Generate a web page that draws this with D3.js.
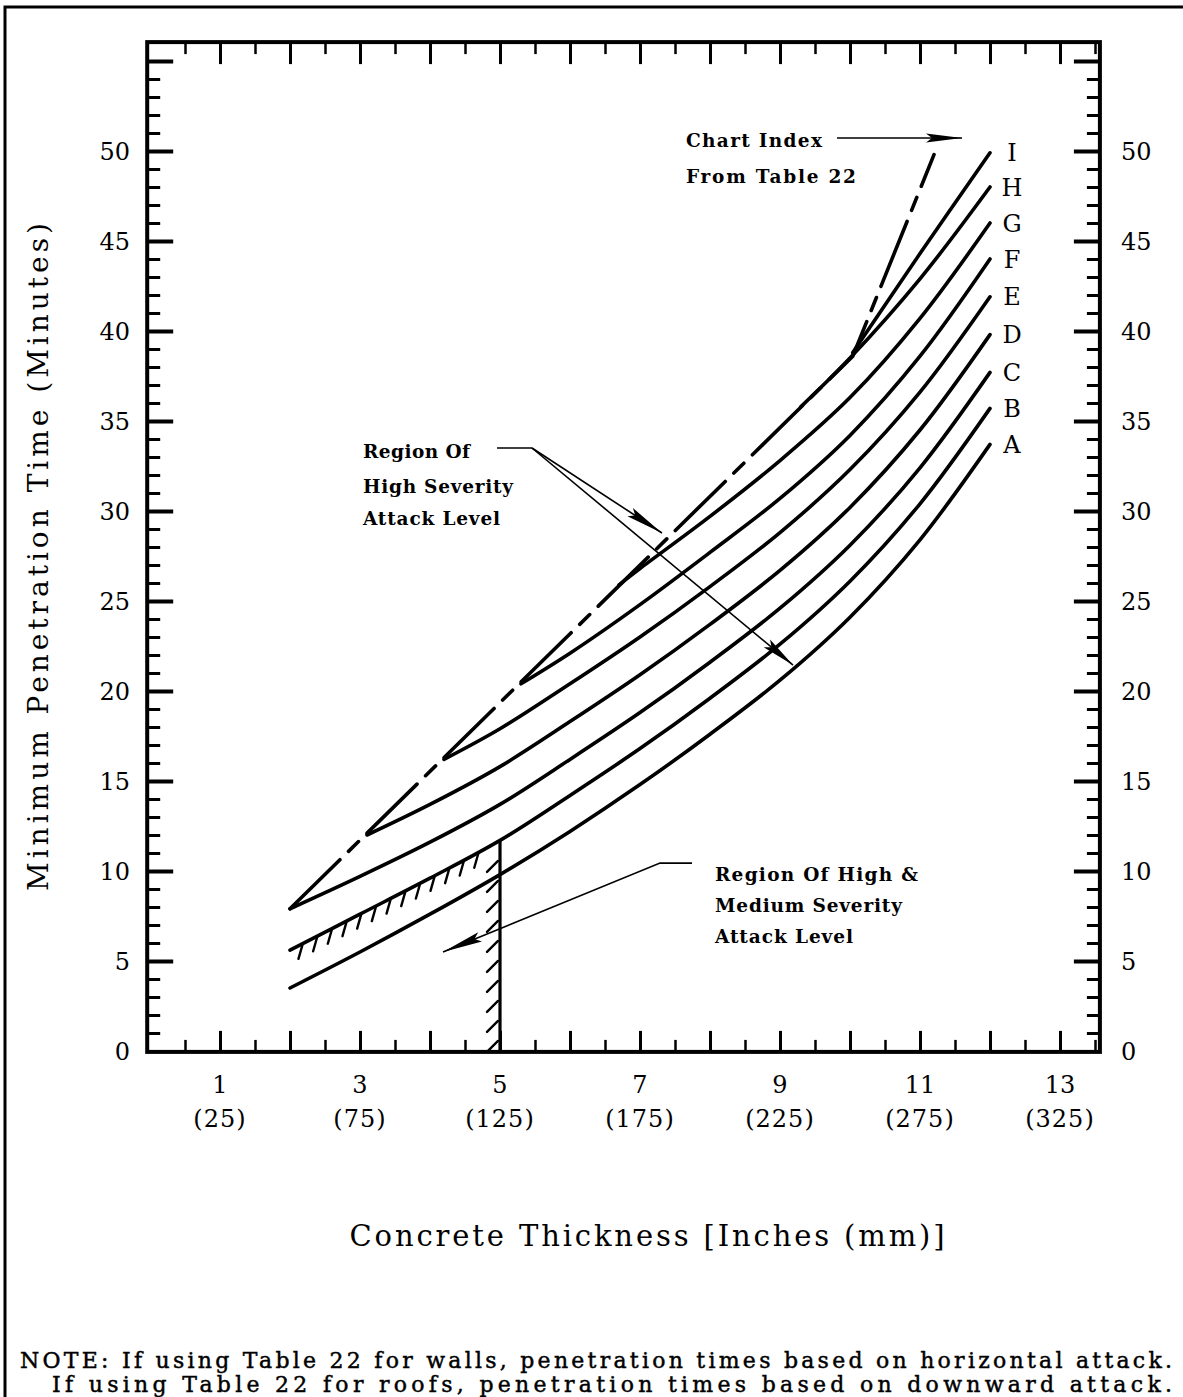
<!DOCTYPE html>
<html><head><meta charset="utf-8">
<script src="https://cdn.jsdelivr.net/npm/d3@7/dist/d3.min.js"></script>
<style>body{margin:0;background:#fff}svg{display:block}</style>
</head><body>
<svg id="chart" width="1183" height="1397"></svg>
<script>
// ---------- data ----------
const xTickValues = [1, 3, 5, 7, 9, 11, 13];
const xTickMm = ["(25)", "(75)", "(125)", "(175)", "(225)", "(275)", "(325)"];
const yTickValues = [0, 5, 10, 15, 20, 25, 30, 35, 40, 45, 50];
const curveLabels = ["A", "B", "C", "D", "E", "F", "G", "H", "I"];

const curveA = [[2,3.5],[3,5.5],[4,7.6],[5,9.8],[6,12.2],[7,14.8],[8,17.6],[9,20.6],[10,24.1],[11,28.4],[12,33.7]];
const curveB = [[2,5.6],[3,7.6],[4,9.6],[5,11.7],[6,14.2],[7,16.8],[8,19.6],[9,22.6],[10,26.1],[11,30.4],[12,35.7]];
const curveC = [[2,7.9],[3,9.7],[4,11.6],[5,13.7],[6,16.2],[7,18.8],[8,21.6],[9,24.6],[10,28.1],[11,32.4],[12,37.7]];
const curveD = [[3.1,12.0],[4,13.7],[5,15.8],[6,18.3],[7,20.9],[8,23.7],[9,26.7],[10,30.2],[11,34.5],[12,39.8]];
const curveE = [[4.2,16.2],[5,17.9],[6,20.4],[7,23.0],[8,25.8],[9,28.8],[10,32.3],[11,36.6],[12,41.9]];
const curveF = [[5.3,20.4],[6,22.1],[7,24.8],[8,27.7],[9,30.7],[10,34.2],[11,38.6],[12,44.0]];
const curveG = [[6.7,25.9],[7,26.8],[8,29.7],[9,32.8],[10,36.3],[11,40.7],[12,46.0]];
const curveH = [[9.3,35.8],[10,38.5],[11,42.9],[12,48.0]];
const curveI = [[10.04,38.8],[11,44.3],[12,49.9]];
const curves = [curveA, curveB, curveC, curveD, curveE, curveF, curveG, curveH, curveI];

// dash-dot boundary of the high severity region
const boundaryLine = [[2,7.9],[10.04,38.6],[11.2,49.8]];
// hatched limit: thickness 5 in, from 0 up to curve B
const hatchThickness = 5;

// ---------- layout ----------
const svg = d3.select("#chart");
const x = d3.scaleLinear().domain([0, 13]).range([150, 1060]);
const y = d3.scaleLinear().domain([0, 50]).range([1051, 151]);
const X0 = -0.04, X1 = 13.57, Y0 = -0.05, Y1 = 56.05;
const serif = "'DejaVu Serif', serif";

// outer border
svg.append("path").attr("d", "M5,1397 V7 H1183").attr("fill", "none")
  .attr("stroke", "#000").attr("stroke-width", 3);

// frame
svg.append("rect").attr("x", x(X0)).attr("y", y(Y1))
  .attr("width", x(X1) - x(X0)).attr("height", y(Y0) - y(Y1))
  .attr("fill", "none").attr("stroke", "#000").attr("stroke-width", 4);

// ---------- ticks via d3 axes ----------
function styleAxis(g, w) {
  g.select(".domain").remove();
  g.selectAll("text").remove();
  g.selectAll("line").attr("stroke", "#000").attr("stroke-width", w);
}
const yMinor = d3.range(1, 56).filter(v => v % 5 !== 0);
const yMajor = d3.range(5, 56, 5);
svg.append("g").attr("transform", `translate(${x(X0)},0)`)
  .call(d3.axisRight(y).tickValues(yMinor).tickSize(13)).call(styleAxis, 3);
svg.append("g").attr("transform", `translate(${x(X0)},0)`)
  .call(d3.axisRight(y).tickValues(yMajor).tickSize(26)).call(styleAxis, 4);
svg.append("g").attr("transform", `translate(${x(X1)},0)`)
  .call(d3.axisLeft(y).tickValues(yMinor).tickSize(13)).call(styleAxis, 3);
svg.append("g").attr("transform", `translate(${x(X1)},0)`)
  .call(d3.axisLeft(y).tickValues(yMajor).tickSize(26)).call(styleAxis, 4);

const xInt = d3.range(1, 14);
const xHalf = d3.range(0.5, 13.6, 1);
svg.append("g").attr("transform", `translate(0,${y(Y0)})`)
  .call(d3.axisTop(x).tickValues(xInt).tickSize(21)).call(styleAxis, 3);
svg.append("g").attr("transform", `translate(0,${y(Y0)})`)
  .call(d3.axisTop(x).tickValues(xHalf).tickSize(12)).call(styleAxis, 2.5);
svg.append("g").attr("transform", `translate(0,${y(Y1)})`)
  .call(d3.axisBottom(x).tickValues(xInt).tickSize(22)).call(styleAxis, 3);
svg.append("g").attr("transform", `translate(0,${y(Y1)})`)
  .call(d3.axisBottom(x).tickValues(xHalf).tickSize(12)).call(styleAxis, 2.5);

// tick labels
const lab = svg.append("g").attr("font-family", serif).attr("font-size", 24).attr("fill", "#000");
lab.selectAll(".yl").data(yTickValues).join("text")
  .attr("x", 130).attr("y", d => y(d)).attr("dy", "0.36em").attr("text-anchor", "end").text(d => d);
lab.selectAll(".yr").data(yTickValues).join("text")
  .attr("x", 1121).attr("y", d => y(d)).attr("dy", "0.36em").attr("text-anchor", "start").text(d => d);
lab.selectAll(".xl").data(xTickValues).join("text")
  .attr("x", d => x(d)).attr("y", 1093).attr("text-anchor", "middle").text(d => d);
lab.selectAll(".xm").data(xTickValues).join("text")
  .attr("x", d => x(d)).attr("y", 1127).attr("text-anchor", "middle")
  .attr("letter-spacing", 1).text((d, i) => xTickMm[i]);

// axis titles
svg.append("text").attr("x", 647).attr("y", 1246).attr("text-anchor", "middle")
  .attr("font-family", serif).attr("font-size", 29).attr("textLength", 595).attr("lengthAdjust", "spacing")
  .text("Concrete Thickness [Inches (mm)]");
svg.append("text").attr("transform", "translate(48,557) rotate(-90)").attr("text-anchor", "middle")
  .attr("font-family", serif).attr("font-size", 28).attr("textLength", 668).attr("lengthAdjust", "spacing")
  .text("Minimum Penetration Time (Minutes)");

// note
const note = svg.append("g").attr("font-family", serif).attr("font-size", 22)
  .attr("stroke", "#000").attr("stroke-width", 0.45);
note.append("text").attr("x", 20).attr("y", 1368).attr("textLength", 1152).attr("lengthAdjust", "spacing")
  .text("NOTE: If using Table 22 for walls, penetration times based on horizontal attack.");
note.append("text").attr("x", 52).attr("y", 1392).attr("textLength", 1120).attr("lengthAdjust", "spacing")
  .text("If using Table 22 for roofs, penetration times based on downward attack.");

// ---------- curves ----------
const line = d3.line().x(d => x(d[0])).y(d => y(d[1])).curve(d3.curveCatmullRom.alpha(0.5));
const paths = svg.append("g").selectAll("path.curve").data(curves).join("path").attr("class", "curve")
  .attr("d", line).attr("fill", "none").attr("stroke", "#000").attr("stroke-width", 3.6)
  .attr("stroke-linecap", "round");

svg.selectAll(".clab").data(curves).join("text")
  .attr("x", d => x(d[d.length - 1][0]) + 22).attr("y", d => y(d[d.length - 1][1]))
  .attr("dy", "0.36em").attr("text-anchor", "middle")
  .attr("font-family", serif).attr("font-size", 24).text((d, i) => curveLabels[i]);

// boundary (dash-dot)
svg.append("path").datum(boundaryLine)
  .attr("d", d3.line().x(d => x(d[0])).y(d => y(d[1])))
  .attr("fill", "none").attr("stroke", "#000").attr("stroke-width", 3.6)
  .attr("stroke-dasharray", "70,12,14,12").attr("stroke-linecap", "round");

// hatched limit line at 5 inches up to curve B
const bAt5 = curveB.find(d => d[0] === hatchThickness)[1];
svg.append("line").attr("x1", x(hatchThickness)).attr("x2", x(hatchThickness))
  .attr("y1", y(Y0)).attr("y2", y(bAt5)).attr("stroke", "#000").attr("stroke-width", 3.2);
const hatchG = svg.append("g").attr("stroke", "#000").attr("stroke-width", 2.4).attr("stroke-linecap", "round");
for (let py = y(Y0) - 6; py > y(bAt5) + 8; py -= 20) {
  hatchG.append("line").attr("x1", x(hatchThickness) - 13).attr("y1", py + 6)
    .attr("x2", x(hatchThickness) - 2).attr("y2", py - 5);
}
const bNode = paths.nodes()[1];
const bLen = bNode.getTotalLength();
for (let L = 14; L < bLen; L += 16.5) {
  const p = bNode.getPointAtLength(L);
  if (p.x > x(hatchThickness) - 12) break;
  hatchG.append("line").attr("x1", p.x).attr("y1", p.y + 1).attr("x2", p.x - 4).attr("y2", p.y + 15);
}

// ---------- annotations ----------
function arrow(g, pts, headLen, headW) {
  g.append("path").attr("d", d3.line()(pts.map(p => [x(p[0]), y(p[1])])))
    .attr("fill", "none").attr("stroke", "#000").attr("stroke-width", 1.6);
  const a = pts[pts.length - 2], b = pts[pts.length - 1];
  const ax = x(a[0]), ay = y(a[1]), bx = x(b[0]), by = y(b[1]);
  const ang = Math.atan2(by - ay, bx - ax);
  const c = Math.cos(ang), s = Math.sin(ang);
  const baseX = bx - c * headLen, baseY = by - s * headLen;
  g.append("path").attr("d",
    `M${bx},${by} L${baseX - s * headW},${baseY + c * headW} L${baseX + c * 6},${baseY + s * 6} L${baseX + s * headW},${baseY - c * headW} Z`)
    .attr("fill", "#000");
}
const ann = svg.append("g");
function annText(tx, ty, str, len) {
  ann.append("text").attr("x", x(tx)).attr("y", y(ty)).text(str)
    .attr("font-family", serif).attr("font-size", 18.5).attr("font-weight", "bold")
    .attr("textLength", len).attr("lengthAdjust", "spacing");
}
annText(7.657, 50.22, "Chart Index", 136);
annText(7.657, 48.22, "From Table 22", 170);
arrow(ann, [[9.814, 50.72], [11.6, 50.72]], 36, 4.5);

annText(3.043, 32.94, "Region Of", 107);
annText(3.043, 31.0, "High Severity", 150);
annText(3.043, 29.22, "Attack Level", 137);
ann.append("line").attr("x1", x(4.957)).attr("x2", x(5.457)).attr("y1", y(33.5)).attr("y2", y(33.5))
  .attr("stroke", "#000").attr("stroke-width", 1.6);
arrow(ann, [[5.457, 33.5], [7.314, 28.78]], 38, 5);
arrow(ann, [[5.457, 33.5], [9.186, 21.44]], 34, 5);

annText(8.071, 9.44, "Region Of High &", 203);
annText(8.071, 7.72, "Medium Severity", 187);
annText(8.071, 6.0, "Attack Level", 138);
arrow(ann, [[7.743, 10.44], [7.286, 10.44], [4.186, 5.5]], 40, 5);
</script>
</body></html>
